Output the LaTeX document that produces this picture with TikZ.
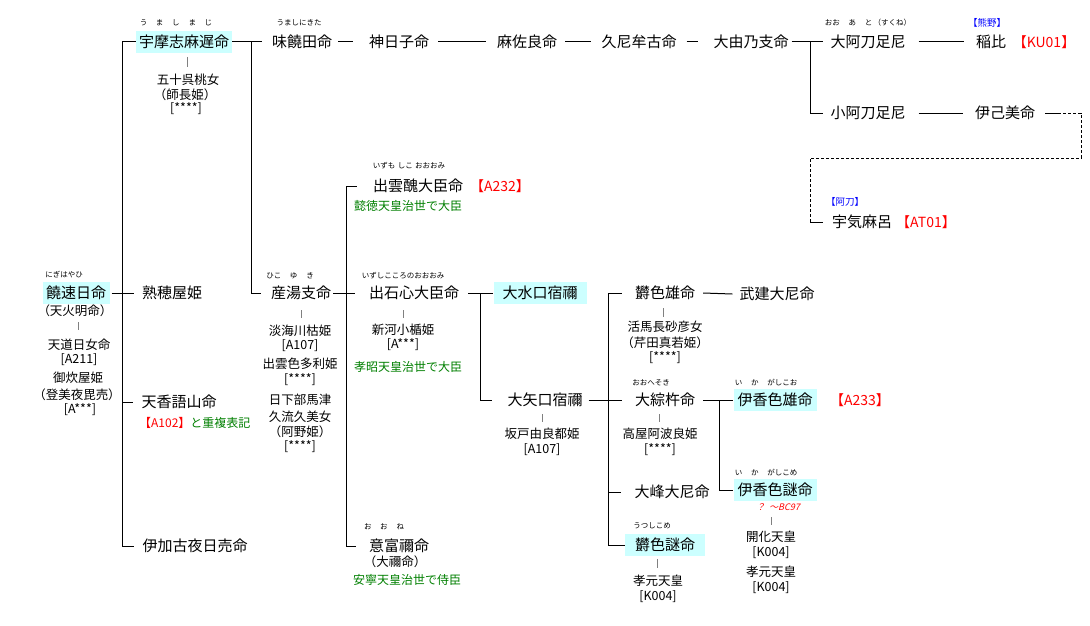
\documentclass[tikz,border=0pt]{standalone}
\usepackage{fontspec}
\setmainfont{Noto Sans CJK JP}
\newfontfamily\slantjp{Noto Sans CJK JP}[FakeSlant=0.25]
\usetikzlibrary{calc}
\definecolor{hlc}{RGB}{204,255,255}
\definecolor{rdc}{RGB}{255,0,0}
\definecolor{grc}{RGB}{0,128,0}
\definecolor{blc}{RGB}{0,0,255}
\begin{document}
\begin{tikzpicture}[x=1pt,y=-1pt,
 tNm/.style={inner sep=0pt,font=\fontsize{15}{17}\selectfont},
 tSm/.style={inner sep=0pt,font=\fontsize{12.5}{14}\selectfont},
 tGn/.style={inner sep=0pt,text=grc,font=\fontsize{12}{14}\selectfont},
 tRd/.style={inner sep=0pt,text=rdc,font=\fontsize{14}{16}\selectfont},
 tBl/.style={inner sep=0pt,text=blc,font=\fontsize{9.5}{11}\selectfont},
 tFg/.style={inner sep=0pt,font=\fontsize{7.5}{8.5}\selectfont},
 hbox/.style={tNm,fill=hlc,minimum height=22pt},
 lnk/.style={line width=1pt},
 tick/.style={line width=1pt,gray},
 dln/.style={line width=1pt,dash pattern=on 3pt off 2pt}
]
\useasboundingbox (0,0) rectangle (1090,626);
\fill[white] (0,0) rectangle (1090,626);

% ---- column 1
\node[tFg] (nigiF) at (64,275) {にぎはやひ};
\node[hbox,minimum width=67pt] (nigi) at (76,293) {饒速日命};
\node[tSm] (nigi2) at (75,311) {（天火明命）};
\node[tSm] (nw1) at (79,345) {天道日女命};
\node[tSm] (nw2) at (79,360) {[A211]};
\node[tSm] (nw3) at (78,378) {御炊屋姫};
\node[tSm] (nw4) at (77,395) {（登美夜毘売）};
\node[tSm] (nw5) at (80,410) {[A***]};

% ---- column 2
\node[tFg] (umF) at (176,23) {う\,　ま\,　し\,　ま\,　じ};
\node[hbox,minimum width=96pt] (umashi) at (184,42) {宇摩志麻遅命};
\node[tSm] (uw1) at (188,80) {五十呉桃女};
\node[tSm] (uw2) at (185,95) {（師長姫）};
\node[tSm] (uw3) at (186,109) {[****]};
\node[tNm] (jukuho) at (172,293) {熟穂屋姫};
\node[tNm] (amakago) at (179,402) {天香語山命};
\node[tGn,anchor=west] (a102) at (139,423) {{\color{rdc}【A102】}と重複表記};
\node[tNm] (ikago) at (195,546) {伊加古夜日売命};

% ---- column 3
\node[tFg] (umnF) at (299,23) {うましにきた};
\node[tNm] (umanigi) at (302,42) {味饒田命};
\node[tFg] (ubF) at (290,276) {ひこ\,　ゆ\,　き};
\node[tNm] (ubuyu) at (301,293) {産湯支命};
\node[tSm] (bw1) at (300,331) {淡海川枯姫};
\node[tSm] (bw2) at (300,346) {[A107]};
\node[tSm] (bw3) at (300,364) {出雲色多利姫};
\node[tSm] (bw4) at (300,380) {[****]};
\node[tSm] (bw5) at (300,400) {日下部馬津};
\node[tSm] (bw6) at (300,417) {久流久美女};
\node[tSm] (bw7) at (300,432) {（阿野姫）};
\node[tSm] (bw8) at (300,447) {[****]};

% ---- top row
\node[tNm] (kamiko) at (399,42) {神日子命};
\node[tNm] (masara) at (527,42) {麻佐良命};
\node[tNm] (kunimu) at (639,42) {久尼牟古命};
\node[tNm] (oyuno) at (751,42) {大由乃支命};
\node[tFg] (ooatoF) at (868,23) {おお\,　あ\,　と\,（すくね）};
\node[tNm] (ooato) at (868,42) {大阿刀足尼};
\node[tBl] (kumano) at (987,23) {【熊野】};
\node[tNm] (inahi) at (991,42) {稲比};
\node[tRd] (ku01) at (1044,42) {【KU01】};
\node[tNm] (koato) at (868,113) {小阿刀足尼};
\node[tNm] (ikomi) at (1005,113) {伊己美命};
\node[tBl] (atoL) at (845,202) {【阿刀】};
\node[tNm] (ukemaro) at (862,222) {宇気麻呂};
\node[tRd] (at01) at (926,222) {【AT01】};

% ---- column 4
\node[tFg] (izF) at (409,166) {いずも\,\,しこ\,\,おおおみ};
\node[tNm] (izumo) at (418,186) {出雲醜大臣命};
\node[tRd] (a232) at (500,186) {【A232】};
\node[tGn] (izg) at (408,206) {懿徳天皇治世で大臣};
\node[tFg] (isF) at (403,276) {いずしこころのおおおみ};
\node[tNm] (izushi) at (414,293) {出石心大臣命};
\node[tSm] (iw1) at (403,330) {新河小楯姫};
\node[tSm] (iw2) at (403,345) {[A***]};
\node[tGn] (isg) at (408,367) {孝昭天皇治世で大臣};
\node[tFg] (ofF) at (384,527) {お\,　お\,　ね};
\node[tNm] (oofu) at (399,546) {意富禰命};
\node[tSm] (oofu2) at (395,562) {（大禰命）};
\node[tGn] (ofg) at (407,580) {安寧天皇治世で侍臣};

% ---- column 5
\node[hbox,minimum width=93pt] (omizu) at (540,293) {大水口宿禰};
\node[tNm] (oyaguchi) at (545,400) {大矢口宿禰};
\node[tSm] (yw1) at (542,434) {坂戸由良都姫};
\node[tSm] (yw2) at (542,450) {[A107]};

% ---- column 6
\node[tNm] (utsushio) at (665,293) {欝色雄命};
\node[tNm] (takeru) at (777,294) {武建大尼命};
\node[tSm] (sw1) at (665,327) {活馬長砂彦女};
\node[tSm] (sw2) at (665,343) {（芹田真若姫）};
\node[tSm] (sw3) at (665,358) {[****]};
\node[tFg] (oheF) at (651,383) {おおへそき};
\node[tNm] (oohe) at (665,400) {大綜杵命};
\node[tSm] (hw1) at (660,434) {高屋阿波良姫};
\node[tSm] (hw2) at (660,450) {[****]};
\node[tNm] (oomine) at (672,492) {大峰大尼命};
\node[tFg] (utF) at (652,526) {うつしこめ};
\node[hbox,minimum width=80pt] (utsushime) at (665,545) {欝色謎命};
\node[tSm] (mw1) at (658,581) {孝元天皇};
\node[tSm] (mw2) at (658,597) {[K004]};

% ---- column 7
\node[tFg] (ioF) at (766,383) {い\,　か\,　がしこお};
\node[hbox,minimum width=83pt] (ikagao) at (775,400) {伊香色雄命};
\node[tRd] (a233) at (860,400) {【A233】};
\node[tFg] (imF) at (766,473) {い\,　か\,　がしこめ};
\node[hbox,minimum width=83pt] (ikagame) at (775,490) {伊香色謎命};
\node[inner sep=0pt,text=rdc,font=\slantjp\fontsize{9}{10}\selectfont] (bc97) at (778,507) {？\ \ ～BC97};
\node[tSm] (gw1) at (771,537) {開化天皇};
\node[tSm] (gw2) at (771,553) {[K004]};
\node[tSm] (gw3) at (771,572) {孝元天皇};
\node[tSm] (gw4) at (771,588) {[K004]};

% ---- trunk coordinates
\coordinate (t1) at (122,0);
\coordinate (t2) at (251,0);
\coordinate (t3) at (810,0);
\coordinate (t4) at (346,0);
\coordinate (t5) at (480,0);
\coordinate (t6) at (608,0);
\coordinate (t7) at (719,0);
\coordinate (dr) at (1081,158);

% ---- connectors
\draw[lnk] (umashi.west) -- (t1 |- umashi.west) -- (t1 |- ikago.west) -- ([xshift=-8pt]ikago.west);
\draw[lnk] ([xshift=2pt]nigi.east) -- ([xshift=-8pt]jukuho.west);
\draw[lnk] (t1 |- amakago.west) -- ([xshift=-8pt]amakago.west);

\draw[lnk] (umashi.east) -- ([xshift=-10pt]umanigi.west);
\draw[lnk] (t2 |- umashi.east) |- ([xshift=-10pt]ubuyu.west);

\draw[lnk] ([xshift=6pt]umanigi.east) -- ([xshift=-16pt]kamiko.west);
\draw[lnk] ([xshift=9pt]kamiko.east) -- ([xshift=-11pt]masara.west);
\draw[lnk] ([xshift=8pt]masara.east) -- ([xshift=-10pt]kunimu.west);
\draw[lnk] ([xshift=10pt]kunimu.east) -- ([xshift=-15pt]oyuno.west);
\draw[lnk] ([xshift=3pt]oyuno.east) -- ([xshift=-7pt]ooato.west);
\draw[lnk] (t3 |- ooato.west) |- ([xshift=-7pt]koato.west);
\draw[lnk] ([xshift=13pt]ooato.east) -- ([xshift=-12pt]inahi.west);
\draw[lnk] ([xshift=13pt]koato.east) -- ([xshift=-12pt]ikomi.west);
\draw[lnk] ([xshift=10pt]ikomi.east) -- ([xshift=23pt]ikomi.east) coordinate (d1);
\draw[dln] (d1) -| (dr) -| (t3 |- ukemaro.west);
\draw[lnk] (t3 |- ukemaro.west) -- ([xshift=-9pt]ukemaro.west);

\draw[lnk] ([xshift=2pt]ubuyu.east) -- ([xshift=-14pt]izushi.west);
\draw[lnk] ([xshift=-16pt]izumo.west) -- (t4 |- izumo.west) -- (t4 |- oofu.west) -- ([xshift=-13pt]oofu.west);

\draw[lnk] ([xshift=9pt]izushi.east) -- (omizu.west);
\draw[lnk] (t5 |- omizu.west) |- ([xshift=-15pt]oyaguchi.west);

\draw[lnk] ([xshift=6pt]oyaguchi.east) -- ([xshift=-13pt]oohe.west);
\draw[lnk] ([xshift=-13pt]utsushio.west) -- (t6 |- utsushio.west) -- (t6 |- utsushime.west) -- (utsushime.west);
\draw[lnk] (t6 |- oomine.west) -- ([xshift=-13pt]oomine.west);
\draw[lnk] ([xshift=8pt]utsushio.east) -- ([xshift=-7pt]takeru.west);

\draw[lnk] ([xshift=8pt]oohe.east) -- (ikagao.west);
\draw[lnk] (t7 |- ikagao.west) |- (ikagame.west);

% ---- spouse ticks
\draw[tick] ($(nigi.center)+(2,29)$) -- ++(0,8);
\draw[tick] ($(umashi.center)+(3,15)$) -- ++(0,10);
\draw[tick] ($(ubuyu.center)+(0,17)$) -- ++(0,8);
\draw[tick] ($(izushi.center)+(-11,17)$) -- ++(0,8);
\draw[tick] ($(utsushio.center)+(-2,15)$) -- ++(0,9);
\draw[tick] ($(oyaguchi.center)+(-3,14)$) -- ++(0,8);
\draw[tick] ($(oohe.center)+(-6,14)$) -- ++(0,8);
\draw[tick] ($(ikagame.center)+(-4,27)$) -- ++(0,8);
\draw[tick] ($(utsushime.center)+(-8,14)$) -- ++(0,9);
\end{tikzpicture}
\end{document}
